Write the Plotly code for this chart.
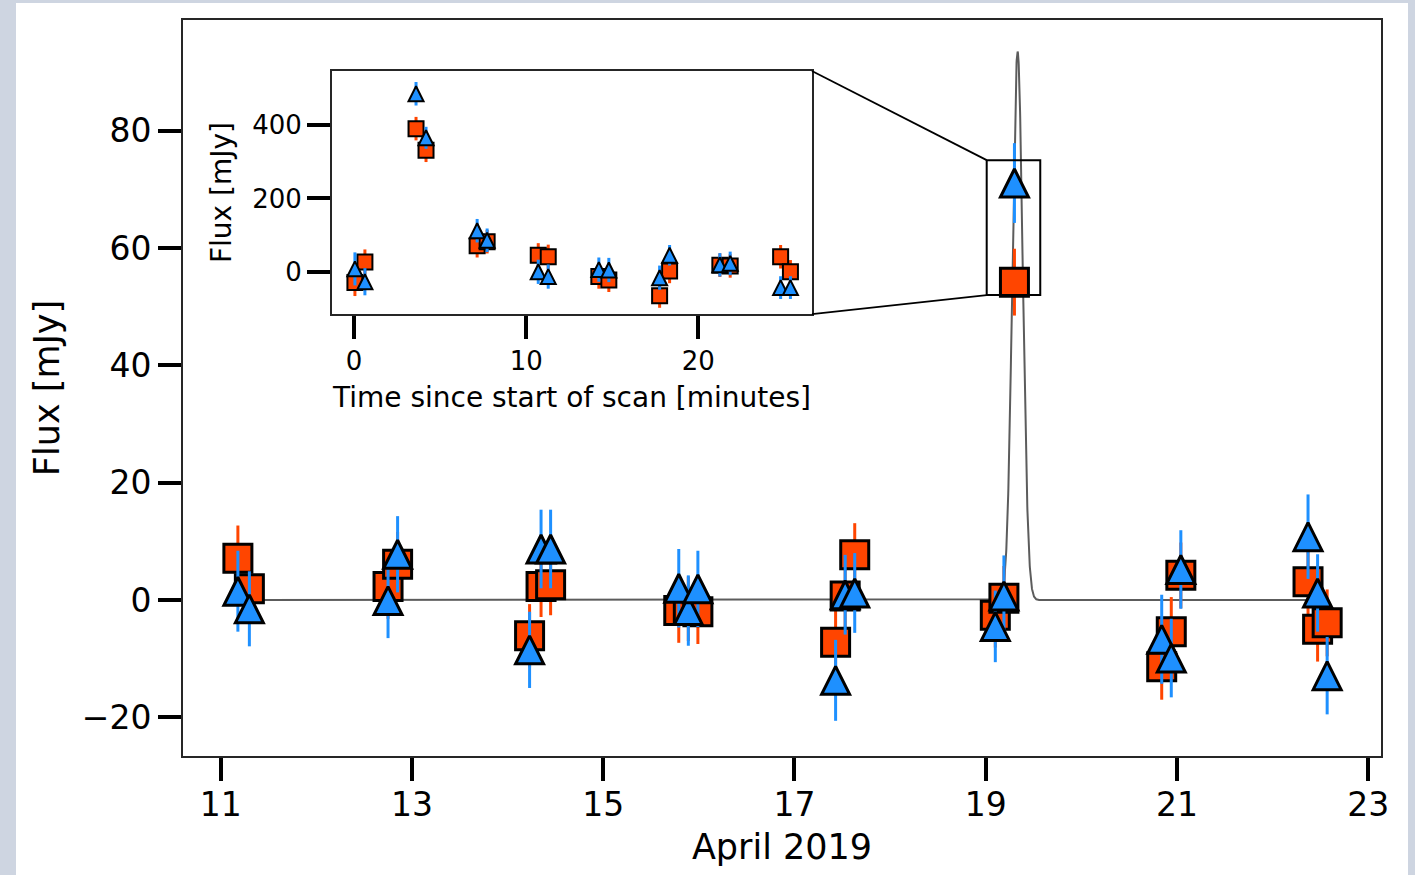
import numpy as np
import plotly.graph_objects as go

# ---- Per-scan averages, April 2019 (day of month) ----
obs_day = [11.18, 11.30, 12.75, 12.85, 14.23, 14.35, 14.45, 15.79, 15.89, 15.99,
           17.43, 17.53, 17.63, 19.10, 19.19, 19.30, 20.84, 20.94, 21.04,
           22.37, 22.47, 22.57]

flux_sq = [7.1, 1.9, 2.3, 6.1, -6.1, 2.3, 2.6, -1.8, -1.5, -2.0,
           -7.2, 0.7, 7.7, -2.6, 0.3, 54.2, -11.4, -5.4, 4.2,
           3.1, -5.0, -3.9]
err_sq = [5.6, 5.5, 5.5, 5.5, 5.4, 5.2, 5.2, 5.5, 5.5, 5.5,
          5.4, 5.4, 5.4, 5.5, 5.5, 5.7, 5.6, 5.9, 5.6,
          5.5, 5.5, 5.7]

flux_tri = [1.5, -1.5, -0.1, 7.8, -8.5, 8.7, 8.7, 2.0, -1.8, 1.9,
            -13.7, 0.9, 1.2, -4.5, 0.7, 71.1, -6.7, -9.9, 5.2,
            10.8, 1.2, -12.9]
err_tri = [6.9, 6.4, 6.4, 6.5, 6.5, 6.7, 6.7, 6.7, 6.0, 6.5,
           6.9, 6.8, 6.8, 6.1, 6.9, 6.8, 7.6, 6.7, 6.7,
           7.2, 6.6, 6.6]

# ---- Gaussian flare model ----
flare_peak = 93.5      # mJy
flare_center = 19.333  # day
flare_sigma = 0.054    # day
model_start, model_end = 11.18, 22.57

# ---- Scan on the flare day ----
scan_min = [0.05, 0.63, 3.60, 4.18, 7.15, 7.73, 10.70, 11.28,
            14.22, 14.80, 17.75, 18.33, 21.25, 21.85, 24.78, 25.35]
scan_sq = [-29, 27, 390, 331, 71, 82, 45, 41,
           -13, -22, -65, 2, 18, 16, 41, 0]
scan_sq_err = [37, 34, 32, 32, 32, 32, 33, 33,
               33, 33, 33, 33, 32, 32, 32, 32]
scan_tri = [8, -27, 485, 365, 112, 86, 0, -13,
            6, 5, -16, 45, 19, 23, -43, -43]
scan_tri_err = [45, 37, 32, 30, 32, 32, 33, 33,
                33, 33, 33, 28, 32, 32, 31, 31]

# ---- Axis ranges and ticks ----
main_xrange = [10.606, 23.133]
main_yrange = [-26.6, 98.9]
main_xticks = [11, 13, 15, 17, 19, 21, 23]
main_yticks = [-20, 0, 20, 40, 60, 80]
inset_xrange = [-1.28, 26.6]
inset_yrange = [-115, 547]
inset_xticks = [0, 10, 20]
inset_yticks = [0, 200, 400]

# region of the main panel that the inset enlarges
zoom_x = [19.01, 19.57]
zoom_y = [52.0, 75.0]

ORANGE = "#ff4500"
BLUE = "#1e90ff"
FONT = "DejaVu Sans"
AXIS = "#262626"

W, H = 1415, 875
ML, MR, MT, MB = 183, 34, 20, 119
inset_dom_x = [0.1244, 0.5250]
inset_dom_y = [0.6005, 0.9307]

model_x = np.linspace(model_start, model_end, 8000)
model_y = flare_peak * np.exp(-0.5 * ((model_x - flare_center) / flare_sigma) ** 2)

fig = go.Figure()

fig.add_trace(go.Scatter(
    x=model_x, y=model_y, mode="lines",
    line=dict(color="#5c5c5c", width=2), hoverinfo="skip", showlegend=False,
))


def square_trace(x, y, err, size, lw, xa="x", ya="y"):
    return go.Scatter(
        x=x, y=y, mode="markers", xaxis=xa, yaxis=ya, showlegend=False,
        marker=dict(symbol="square", size=size, color=ORANGE,
                    line=dict(color="black", width=lw)),
        error_y=dict(type="data", array=err, color=ORANGE, thickness=3, width=0),
    )


def triangle_trace(x, y, err, size, lw, xa="x", ya="y"):
    # upward triangle, as tall as it is wide, centred on its bounding box
    return go.Scatter(
        x=x, y=y, mode="markers", xaxis=xa, yaxis=ya, showlegend=False,
        marker=dict(symbol="arrow-down", angle=180, standoff=size / 2,
                    size=size, color=BLUE,
                    line=dict(color="black", width=lw)),
        error_y=dict(type="data", array=err, color=BLUE, thickness=3, width=0),
    )


fig.add_trace(square_trace(obs_day, flux_sq, err_sq, 28, 3))
fig.add_trace(triangle_trace(obs_day, flux_tri, err_tri, 28, 3))

fig.add_trace(square_trace(scan_min, scan_sq, scan_sq_err, 15, 2, "x2", "y2"))
fig.add_trace(triangle_trace(scan_min, scan_tri, scan_tri_err, 15, 2, "x2", "y2"))

axis_common = dict(
    showgrid=False, zeroline=False, showline=True, mirror=True,
    linecolor=AXIS, linewidth=2, ticks="outside", tickcolor="black",
    ticklen=23, tickwidth=3.5, automargin=False,
)

fig.update_layout(
    width=W, height=H,
    margin=dict(l=ML, r=MR, t=MT, b=MB, autoexpand=False),
    paper_bgcolor="#ced5e1", plot_bgcolor="white",
    font=dict(family=FONT, color="black"),
    xaxis=dict(range=main_xrange, tickvals=main_xticks, tickfont=dict(size=33),
               ticklabelstandoff=-5,
               title=dict(text="April 2019", font=dict(size=35), standoff=12),
               **axis_common),
    yaxis=dict(range=main_yrange, tickvals=main_yticks, tickfont=dict(size=33),
               title=dict(text="Flux [mJy]", font=dict(size=35), standoff=11),
               **axis_common),
    xaxis2=dict(domain=inset_dom_x, anchor="y2", range=inset_xrange,
                tickvals=inset_xticks, tickfont=dict(size=26),
                title=dict(text="Time since start of scan [minutes]",
                           font=dict(size=28), standoff=12),
                **axis_common),
    yaxis2=dict(domain=inset_dom_y, anchor="x2", range=inset_yrange,
                tickvals=inset_yticks, tickfont=dict(size=26),
                title=dict(text="Flux [mJy]", font=dict(size=28), standoff=12),
                **axis_common),
)

# white figure panel behind both axes
px_to_fx = lambda px: (px - ML) / (W - ML - MR)
py_to_fy = lambda py: (H - MB - py) / (H - MT - MB)
fig.add_shape(type="rect", xref="paper", yref="paper", layer="below",
              x0=px_to_fx(16), x1=px_to_fx(1408), y0=py_to_fy(880), y1=py_to_fy(3),
              fillcolor="white", line=dict(width=0))

# dotted zero level in the inset
fig.add_shape(type="line", xref="x2 domain", yref="y2", layer="below",
              x0=0, x1=1, y0=0, y1=0,
              line=dict(color="#b0b0b0", width=3, dash="dot"))

# zoom box on the flare
fig.add_shape(type="rect", xref="x", yref="y",
              x0=zoom_x[0], x1=zoom_x[1], y0=zoom_y[0], y1=zoom_y[1],
              line=dict(color="black", width=2), fillcolor="rgba(0,0,0,0)")

# connectors from the inset corners to the zoom box (in main-axis data units)
def dom_to_x(f):
    return main_xrange[0] + f * (main_xrange[1] - main_xrange[0])


def dom_to_y(f):
    return main_yrange[0] + f * (main_yrange[1] - main_yrange[0])


fig.add_shape(type="line", xref="x", yref="y",
              x0=dom_to_x(inset_dom_x[1]), y0=dom_to_y(inset_dom_y[1]),
              x1=zoom_x[0], y1=zoom_y[1], line=dict(color="black", width=1.8))
fig.add_shape(type="line", xref="x", yref="y",
              x0=dom_to_x(inset_dom_x[1]), y0=dom_to_y(inset_dom_y[0]),
              x1=zoom_x[0], y1=zoom_y[0], line=dict(color="black", width=1.8))

fig.write_html("out.html")
